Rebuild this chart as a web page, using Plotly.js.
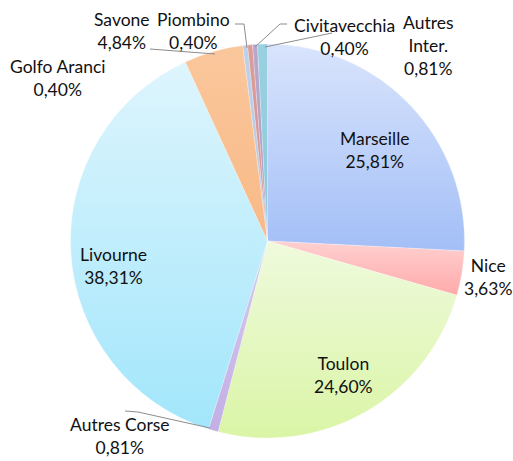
<!DOCTYPE html>
<html><head><meta charset="utf-8">
<script src="https://cdn.plot.ly/plotly-3.0.1.min.js"></script>
<style>html,body{margin:0;padding:0;background:#fff}</style>
</head><body><div id="chart" style="width:513px;height:461px"></div>
<script>
// Data (clockwise from 12 o'clock)
const ports = ["Marseille","Nice","Toulon","Autres Corse","Livourne","Savone","Golfo Aranci","Piombino","Civitavecchia","Autres Inter."];
const shares = [25.81, 3.63, 24.60, 0.81, 38.31, 4.84, 0.40, 0.40, 0.40, 0.81];
const labelText = ["Marseille","Nice","Toulon","Autres Corse","Livourne","Savone","Golfo Aranci","Piombino","Civitavecchia","Autres<br>Inter."];
const sliceColors = ["#BED1F9","#FFBFBF","#E6F8C5","#C9B8E8","#C4EEFC","#FAC08F","#B9CDE5","#D99694","#B3A2C7","#93CDDD"];
// gradient top/bottom shades (style)
const gradTop = ["#D9E4FC","#FFD0D0","#EFFADD","#D6CAEE","#DEF5FD","#FAC79C","#BFD1E8","#DB9C9A","#B8A8CB","#9AD1E0"];
const gradBot = ["#A3BFF7","#FFAAAA","#DAF5A6","#C3AFE5","#A2E6FB","#F9B987","#B3C8E2","#D5908E","#AE9BC3","#8CC8D9"];

// label placement in pixels (style)
const labelPos = [[375,150],[488,277],[343,375],[120,436],[113,266],[122,31],[57,78],[193,31],[344,37],[428,45]];

const W = 513, H = 461;
const px = x => x / W, py = y => 1 - y / H;
const fmt = v => v.toFixed(2).replace('.', ',') + '%';

const annotations = ports.map((p, i) => ({
  x: px(labelPos[i][0]), y: py(labelPos[i][1]), xref: 'paper', yref: 'paper',
  text: labelText[i] + '<br>' + fmt(shares[i]), showarrow: false,
  xanchor: 'center', yanchor: 'middle', align: 'center', borderpad: 0,
  font: {family: 'Lato, "Open Sans", sans-serif', size: 17.5, color: '#111'}
}));

// leader lines (pixel paths)
const leaders = [
  [[150,49],[215,54]],
  [[235,24],[244,24],[247,48]],
  [[287,24],[280,24],[255,47]],
  [[332,33],[265,47]],
  [[125,411],[138,412],[210,428]]
];
const shapes = leaders.map(pts => ({
  type: 'path', xref: 'paper', yref: 'paper',
  path: pts.map((p, j) => (j ? 'L' : 'M') + px(p[0]) + ',' + py(p[1])).join(' '),
  line: {color: '#8c8c8c', width: 1}
}));

const cx = 267.5, cy = 241, r = 197;
Plotly.newPlot('chart', [{
  type: 'pie', values: shares, labels: ports, sort: false, direction: 'clockwise', rotation: 0,
  marker: {colors: sliceColors, line: {color: 'rgba(255,255,255,0.5)', width: 0.5}},
  textinfo: 'none', hoverinfo: 'label+percent', showlegend: false,
  domain: {x: [px(cx - r), px(cx + r)], y: [1 - (cy + r) / H, 1 - (cy - r) / H]}
}], {
  width: W, height: H, margin: {l: 0, r: 0, t: 0, b: 0},
  paper_bgcolor: '#fff', annotations: annotations, shapes: shapes, showlegend: false
}, {staticPlot: true}).then(gd => {
  const NS = 'http://www.w3.org/2000/svg';
  const svg = gd.querySelector('svg.main-svg');
  const defs = document.createElementNS(NS, 'defs');
  svg.insertBefore(defs, svg.firstChild);
  const paths = gd.querySelectorAll('g.slice path.surface');
  paths.forEach((pth, i) => {
    const g = document.createElementNS(NS, 'linearGradient');
    g.setAttribute('id', 'sg' + i);
    g.setAttribute('x1', '0'); g.setAttribute('y1', '0');
    g.setAttribute('x2', '0'); g.setAttribute('y2', '1');
    [[0, gradTop[i]], [1, gradBot[i]]].forEach(([o, c]) => {
      const s = document.createElementNS(NS, 'stop');
      s.setAttribute('offset', o); s.setAttribute('stop-color', c);
      g.appendChild(s);
    });
    defs.appendChild(g);
    pth.style.fill = 'url(#sg' + i + ')';
  });
});
</script></body></html>
